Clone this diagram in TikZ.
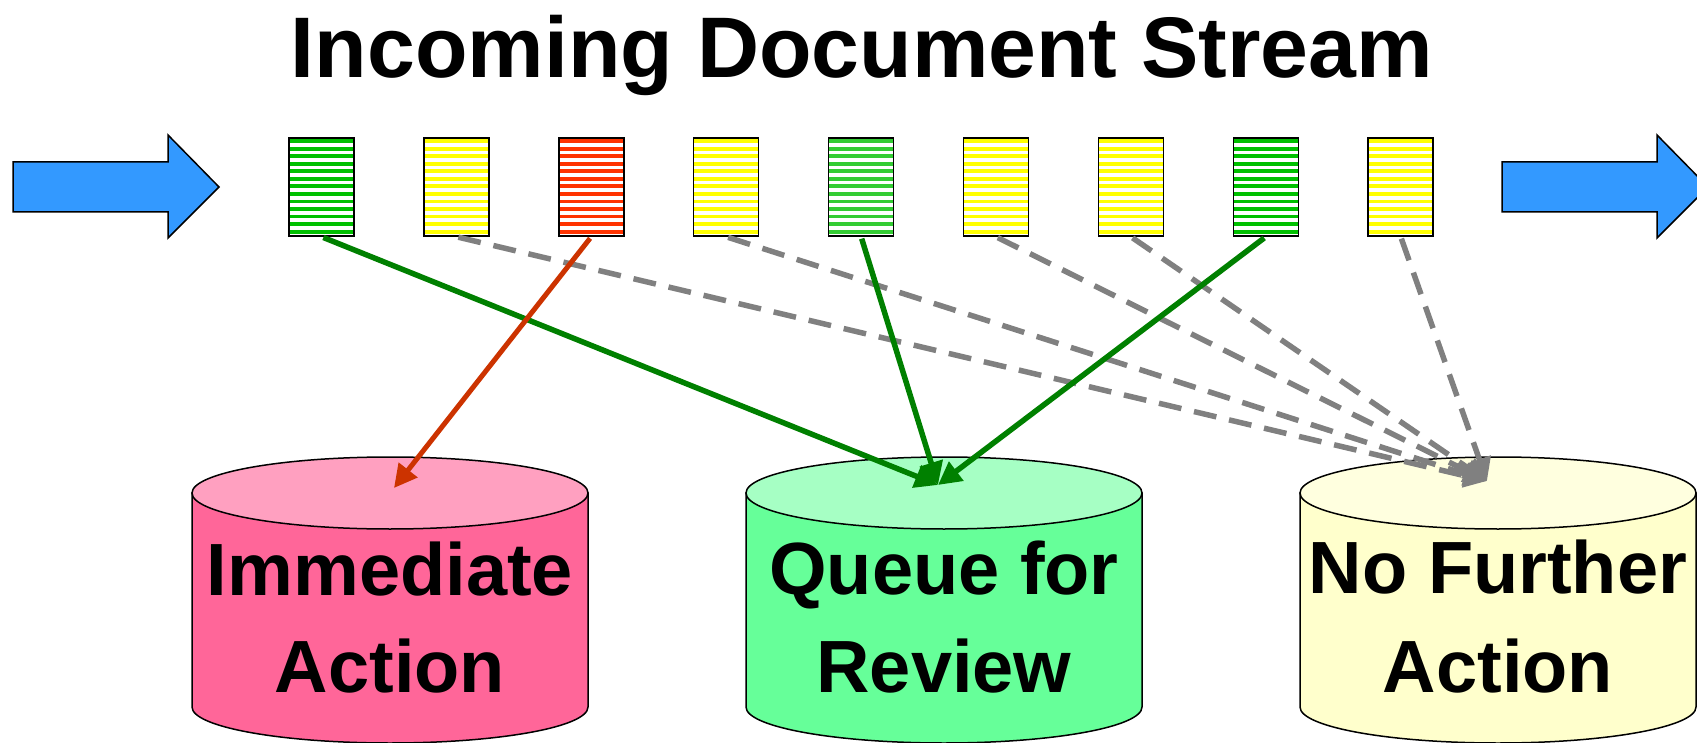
\documentclass[tikz,border=0pt]{standalone}
\usepackage{fontspec}
\setmainfont{Liberation Sans}
\usetikzlibrary{arrows.meta}

\definecolor{streamblue}{HTML}{3399FF}
\definecolor{docgreen}{HTML}{00C000}
\definecolor{docgreenlt}{HTML}{33CC33}
\definecolor{docyellow}{HTML}{FFFF00}
\definecolor{docred}{HTML}{FF3300}
\definecolor{flowgreen}{HTML}{008000}
\definecolor{flowred}{HTML}{CC3300}
\definecolor{flowgray}{HTML}{808080}
\definecolor{pinkside}{HTML}{FF6699}
\definecolor{pinktop}{HTML}{FFA0C0}
\definecolor{greenside}{HTML}{66FF99}
\definecolor{greentop}{HTML}{A6FFC4}
\definecolor{yellowside}{HTML}{FFFFCC}
\definecolor{yellowtop}{HTML}{FFFFDF}

\tikzset{
  docbox/.style={draw=black, line width=1.5pt, fill=white,
    minimum width=65pt, minimum height=98pt, inner sep=0pt},
  striped/.style={path picture={
    \foreach \k in {0,...,12}{
      \fill[#1] ([yshift=-\k*7.55pt-1.2pt]path picture bounding box.north west)
        rectangle ([yshift=-\k*7.55pt-5.0pt]path picture bounding box.north east);
    }}},
  streamarrow/.style={draw=black, line width=1.5pt, fill=streamblue, line join=miter},
  storelabel/.style={font=\fontsize{74}{74}\selectfont\bfseries, anchor=base, inner sep=0pt},
  flow/.style={line width=5.5pt, -{Triangle[length=23pt,width=23pt]}, shorten <=2pt},
  pics/store/.style 2 args={code={
    \filldraw[fill=#1, line width=1.5pt]
      (-198,493) -- (-198,707)
      arc[start angle=180, end angle=0, x radius=198, y radius=36]
      -- (198,493) -- cycle;
    \filldraw[fill=#2, line width=1.5pt] (0,493) ellipse[x radius=198, y radius=36];
  }},
}

\begin{document}
\begin{tikzpicture}[x=1pt, y=-1pt]
\useasboundingbox (0,0) rectangle (1697,743);
\clip (0,0) rectangle (1697,743);

% title
\node[font=\fontsize{86}{86}\selectfont\bfseries, anchor=base, inner sep=0pt]
  (title) at (862,78) {Incoming Document Stream};

% stream arrows in and out
\draw[streamarrow] (13,162) -- (168,162) -- (168,135) -- (219,187)
  -- (168,238) -- (168,212) -- (13,212) -- cycle;
\draw[streamarrow] (1502,162) -- (1657,162) -- (1657,135) -- (1708,187)
  -- (1657,238) -- (1657,212) -- (1502,212) -- cycle;

% documents in the stream
\foreach \i/\c in {1/docgreen, 2/docyellow, 3/docred, 4/docyellow, 5/docgreenlt,
                   6/docyellow, 7/docyellow, 8/docgreen, 9/docyellow}{
  \node[docbox, striped=\c] (d\i) at ({321.5+(\i-1)*134.9}, 187) {};
}

% destination stores
\pic at (390,0) {store={pinkside}{pinktop}};
\pic at (944,0) {store={greenside}{greentop}};
\pic at (1498,0) {store={yellowside}{yellowtop}};

\node[storelabel] (immA) at (390,595) {Immediate};
\node[storelabel] (immB) at (390,692) {Action};
\node[storelabel] (queA) at (944,594) {Queue for};
\node[storelabel] (queB) at (944,692) {Review};
\node[storelabel] (nfaA) at (1498,593) {No Further};
\node[storelabel] (nfaB) at (1498,692) {Action};

\coordinate (immIn) at (394,488);
\coordinate (queIn) at (938,485);
\coordinate (nfaIn) at (1487,481);

% routing
\foreach \i in {2,4,6,7,9}{
  \draw[flow, color=flowgray, dash pattern=on 23pt off 13pt]
    (d\i.south) -- (nfaIn);
}
\foreach \i in {1,5,8}{
  \draw[flow, color=flowgreen] (d\i.south) -- (queIn);
}
\draw[flow, color=flowred, line width=5pt] (d3.south) -- (immIn);
\end{tikzpicture}
\end{document}
